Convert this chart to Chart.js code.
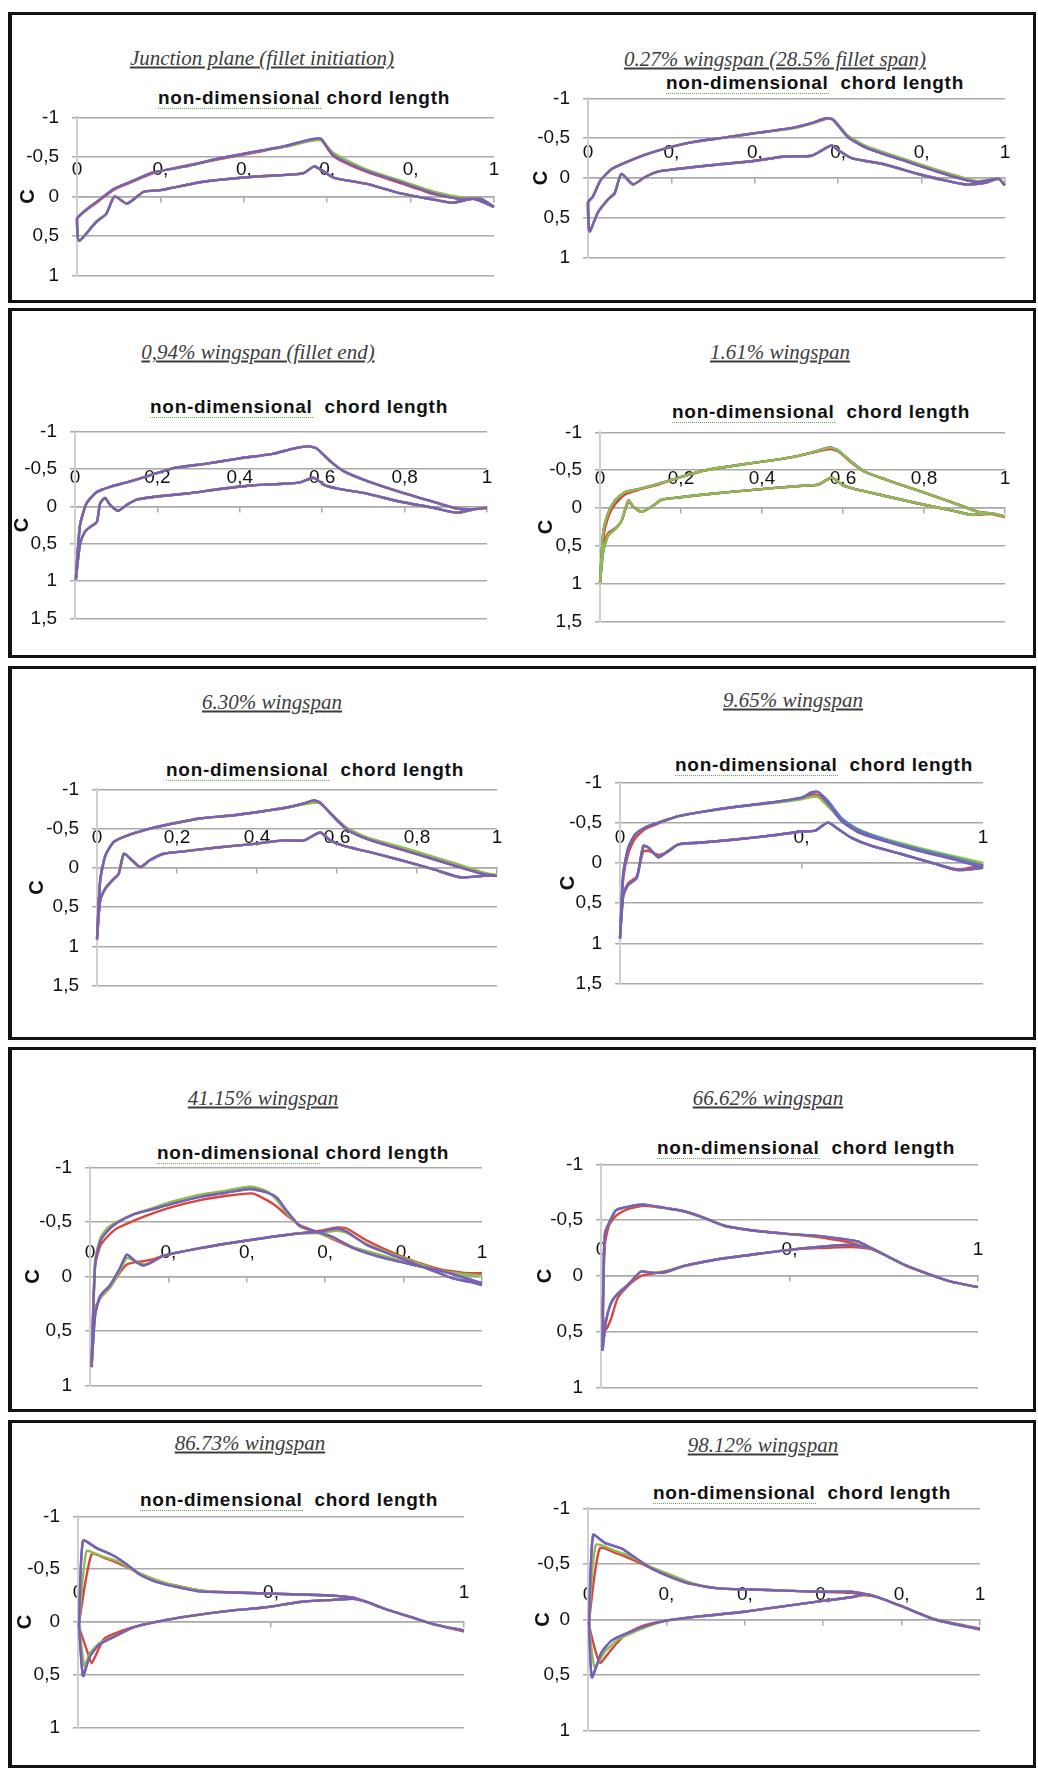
<!DOCTYPE html>
<html>
<head>
<meta charset="utf-8">
<title>Pressure distribution along the wingspan</title>
<script src="https://cdn.jsdelivr.net/npm/chart.js@4.4.1/dist/chart.umd.min.js"></script>
<style>
  html, body { margin: 0; padding: 0; background: #fff; }
  body { position: relative; width: 1038px; height: 1774px; overflow: hidden; }
  .box { position: absolute; left: 8px; width: 1028px; box-sizing: border-box; border: 3px solid #111; border-left-width: 4px; }
  .cap { position: absolute; transform: translate(-50%, -50%); font: italic 21px "Liberation Serif", "Times New Roman", serif; color: #3d3d3d; text-decoration: underline; white-space: nowrap; }
  .ttl { position: absolute; transform: translate(-50%, -50%); font: bold 19px "Liberation Sans", Arial, sans-serif; letter-spacing: 0.7px; color: #111; white-space: pre; }
  .ttl .sq { border-bottom: 1px dotted #63a243; }
  canvas { position: absolute; }
</style>
</head>
<body>
<div class="box" style="top:12px;height:291px"></div>
<div class="box" style="top:308px;height:350px"></div>
<div class="box" style="top:666px;height:374px"></div>
<div class="box" style="top:1047px;height:365px"></div>
<div class="box" style="top:1420px;height:348px"></div>
<script>
// ===== TICK TEXT =====
const xTextShort = ["0", "0,", "0,", "0,", "0,", "1"];
const xTextFull = ["0", "0,2", "0,4", "0,6", "0,8", "1"];
const xTextHalf = ["0", "0,", "1"];
const yText = ["-1", "-0,5", "0", "0,5", "1", "1,5"];   // from -1 upward in steps of 0.5

// ===== DATA (x = chord position, y = C), upper and lower branch from leading edge =====
// Junction plane
const c1UpX = [0, 0.054, 0.09, 0.135, 0.18, 0.26, 0.34, 0.42, 0.5, 0.56, 0.585, 0.615, 0.695, 0.776, 0.856, 0.92, 0.968, 1];
const c1UpY = [0.28, 0.04, -0.1, -0.2, -0.3, -0.38, -0.48, -0.56, -0.64, -0.72, -0.73, -0.52, -0.32, -0.18, -0.04, 0.03, 0.03, 0.13];
const c1UpYGreen = [0.28, 0.04, -0.1, -0.2, -0.3, -0.38, -0.48, -0.56, -0.63, -0.7, -0.71, -0.55, -0.34, -0.2, -0.06, 0.01, 0.03, 0.13];
const c1UpYRed = [0.28, 0.05, -0.09, -0.19, -0.29, -0.39, -0.47, -0.55, -0.63, -0.71, -0.72, -0.51, -0.31, -0.17, -0.03, 0.03, 0.03, 0.13];
const c1LoX = [0.005, 0.046, 0.07, 0.09, 0.12, 0.16, 0.2, 0.295, 0.4, 0.52, 0.545, 0.57, 0.615, 0.695, 0.776, 0.856, 0.9, 0.95, 1];
const c1LoY = [0.56, 0.32, 0.22, 0.0, 0.09, -0.06, -0.08, -0.18, -0.24, -0.28, -0.3, -0.38, -0.24, -0.16, -0.04, 0.04, 0.08, 0.03, 0.13];

// 0.27% wingspan
const c2UpX = [0, 0.012, 0.03, 0.056, 0.088, 0.136, 0.184, 0.25, 0.33, 0.41, 0.49, 0.536, 0.572, 0.588, 0.624, 0.672, 0.752, 0.832, 0.896, 0.936, 0.984, 1];
const c2UpY = [0.31, 0.23, 0.03, -0.11, -0.19, -0.29, -0.37, -0.45, -0.51, -0.57, -0.63, -0.69, -0.75, -0.73, -0.51, -0.37, -0.23, -0.09, 0.01, 0.05, 0.01, 0.09];
const c2UpYGreen = [0.31, 0.23, 0.03, -0.11, -0.19, -0.29, -0.37, -0.45, -0.51, -0.57, -0.62, -0.68, -0.74, -0.74, -0.53, -0.39, -0.25, -0.11, -0.01, 0.04, 0.01, 0.09];
const c2LoX = [0.004, 0.024, 0.048, 0.064, 0.08, 0.108, 0.136, 0.168, 0.208, 0.312, 0.392, 0.472, 0.536, 0.584, 0.6, 0.632, 0.712, 0.792, 0.856, 0.904, 0.952, 0.984, 1];
const c2LoY = [0.67, 0.43, 0.27, 0.19, -0.05, 0.08, -0.01, -0.08, -0.11, -0.17, -0.21, -0.27, -0.28, -0.41, -0.35, -0.25, -0.17, -0.05, 0.03, 0.08, 0.06, 0.01, 0.09];

// 0,94% wingspan
const c3UpX = [0.002, 0.012, 0.028, 0.053, 0.085, 0.126, 0.174, 0.239, 0.32, 0.4, 0.48, 0.53, 0.567, 0.587, 0.62, 0.652, 0.708, 0.79, 0.87, 0.927, 0.968, 1];
const c3UpY = [0.98, 0.26, -0.04, -0.19, -0.26, -0.32, -0.4, -0.51, -0.57, -0.64, -0.7, -0.77, -0.8, -0.77, -0.6, -0.47, -0.34, -0.19, -0.06, 0.03, 0.04, 0.02];
const c3LoX = [0.002, 0.012, 0.024, 0.036, 0.053, 0.061, 0.073, 0.085, 0.105, 0.126, 0.15, 0.198, 0.271, 0.352, 0.433, 0.506, 0.547, 0.579, 0.607, 0.644, 0.708, 0.79, 0.87, 0.927, 0.968, 1];
const c3LoY = [0.98, 0.51, 0.34, 0.28, 0.21, -0.04, -0.11, -0.02, 0.06, -0.02, -0.09, -0.13, -0.17, -0.23, -0.28, -0.3, -0.32, -0.38, -0.28, -0.23, -0.17, -0.06, 0.02, 0.085, 0.04, 0.02];

// 1.61% wingspan
const c4UpX = [0, 0.008, 0.02, 0.037, 0.062, 0.095, 0.144, 0.193, 0.26, 0.342, 0.424, 0.49, 0.539, 0.568, 0.588, 0.621, 0.654, 0.704, 0.786, 0.868, 0.934, 0.967, 1];
const c4UpY = [0.99, 0.32, 0.07, -0.1, -0.21, -0.25, -0.32, -0.4, -0.5, -0.57, -0.63, -0.69, -0.76, -0.8, -0.76, -0.61, -0.48, -0.38, -0.23, -0.08, 0.05, 0.07, 0.11];
const c4UpYRed = [0.99, 0.4, 0.12, -0.05, -0.18, -0.24, -0.31, -0.4, -0.5, -0.57, -0.63, -0.69, -0.75, -0.78, -0.75, -0.6, -0.48, -0.38, -0.23, -0.08, 0.05, 0.08, 0.12];
const c4LoX = [0, 0.008, 0.02, 0.037, 0.053, 0.07, 0.082, 0.103, 0.128, 0.152, 0.193, 0.276, 0.358, 0.44, 0.514, 0.539, 0.572, 0.601, 0.63, 0.704, 0.786, 0.868, 0.918, 0.967, 1];
const c4LoY = [0.99, 0.57, 0.36, 0.28, 0.17, -0.1, -0.02, 0.05, -0.02, -0.11, -0.14, -0.19, -0.23, -0.27, -0.3, -0.31, -0.4, -0.3, -0.25, -0.16, -0.06, 0.03, 0.09, 0.07, 0.11];
const c4LoYRed = [0.99, 0.5, 0.33, 0.27, 0.17, -0.08, -0.02, 0.05, -0.02, -0.11, -0.14, -0.19, -0.23, -0.27, -0.3, -0.31, -0.4, -0.3, -0.25, -0.16, -0.06, 0.03, 0.09, 0.08, 0.12];

// 6.30% wingspan
const c5UpX = [0, 0.008, 0.021, 0.042, 0.075, 0.125, 0.175, 0.258, 0.342, 0.425, 0.475, 0.517, 0.542, 0.558, 0.592, 0.625, 0.675, 0.758, 0.842, 0.925, 0.967, 1];
const c5UpY = [0.91, 0.16, -0.16, -0.33, -0.41, -0.49, -0.55, -0.63, -0.67, -0.73, -0.77, -0.82, -0.86, -0.83, -0.65, -0.49, -0.37, -0.24, -0.11, 0.02, 0.08, 0.1];
const c5UpYGreen = [0.91, 0.16, -0.16, -0.33, -0.41, -0.49, -0.55, -0.63, -0.67, -0.73, -0.77, -0.81, -0.83, -0.82, -0.66, -0.51, -0.39, -0.27, -0.14, -0.01, 0.06, 0.09];
const c5LoX = [0, 0.008, 0.021, 0.042, 0.054, 0.067, 0.083, 0.108, 0.133, 0.167, 0.217, 0.3, 0.383, 0.467, 0.517, 0.558, 0.583, 0.617, 0.675, 0.758, 0.842, 0.908, 0.967, 1];
const c5LoY = [0.91, 0.41, 0.26, 0.14, 0.08, -0.18, -0.12, -0.01, -0.1, -0.18, -0.21, -0.26, -0.3, -0.35, -0.35, -0.45, -0.35, -0.28, -0.21, -0.1, 0.02, 0.12, 0.1, 0.1];

// 9.65% wingspan
const c6UpX = [0, 0.009, 0.023, 0.041, 0.069, 0.106, 0.161, 0.234, 0.326, 0.417, 0.5, 0.528, 0.546, 0.573, 0.61, 0.656, 0.729, 0.821, 0.913, 1];
const c6UpY = [0.94, 0.13, -0.19, -0.35, -0.44, -0.5, -0.58, -0.64, -0.7, -0.75, -0.81, -0.88, -0.88, -0.74, -0.52, -0.38, -0.27, -0.15, -0.05, 0.06];
const c6UpYGreen = [0.94, 0.13, -0.19, -0.35, -0.44, -0.5, -0.58, -0.64, -0.7, -0.74, -0.79, -0.82, -0.82, -0.7, -0.55, -0.42, -0.3, -0.19, -0.09, 0.0];
const c6UpYRed = [0.94, 0.2, -0.12, -0.3, -0.42, -0.49, -0.58, -0.64, -0.7, -0.75, -0.8, -0.85, -0.84, -0.72, -0.53, -0.4, -0.28, -0.17, -0.07, 0.03];
const c6UpYBlue = [0.94, 0.13, -0.19, -0.35, -0.44, -0.5, -0.58, -0.64, -0.7, -0.75, -0.81, -0.87, -0.88, -0.77, -0.56, -0.41, -0.29, -0.17, -0.07, 0.04];
const c6LoX = [0, 0.009, 0.023, 0.046, 0.064, 0.078, 0.106, 0.133, 0.161, 0.216, 0.317, 0.417, 0.5, 0.537, 0.573, 0.601, 0.638, 0.693, 0.775, 0.867, 0.931, 1];
const c6LoY = [0.94, 0.41, 0.27, 0.19, -0.21, -0.19, -0.07, -0.15, -0.23, -0.25, -0.29, -0.34, -0.39, -0.4, -0.5, -0.42, -0.31, -0.21, -0.11, 0.01, 0.09, 0.06];
const c6LoYRed = [0.94, 0.38, 0.25, 0.17, -0.14, -0.15, -0.1, -0.14, -0.23, -0.25, -0.29, -0.34, -0.39, -0.4, -0.5, -0.42, -0.31, -0.21, -0.11, 0.01, 0.08, 0.03];

// 41.15% wingspan
const c7UpX = [0.004, 0.013, 0.026, 0.043, 0.068, 0.111, 0.153, 0.213, 0.281, 0.349, 0.4, 0.417, 0.451, 0.477, 0.502, 0.536, 0.579, 0.621, 0.672, 0.749, 0.834, 0.919, 0.962, 1];
const c7UpY = [0.83, -0.11, -0.32, -0.41, -0.49, -0.57, -0.61, -0.67, -0.73, -0.77, -0.8, -0.8, -0.77, -0.72, -0.6, -0.46, -0.41, -0.36, -0.26, -0.17, -0.1, -0.03, 0.02, 0.06];
const c7UpYGreen = [0.83, -0.15, -0.35, -0.44, -0.5, -0.57, -0.62, -0.69, -0.75, -0.79, -0.82, -0.82, -0.78, -0.7, -0.58, -0.46, -0.4, -0.35, -0.27, -0.19, -0.1, -0.04, -0.02, -0.01];
const c7UpYRed = [0.83, -0.1, -0.28, -0.36, -0.44, -0.51, -0.57, -0.64, -0.7, -0.74, -0.76, -0.76, -0.7, -0.64, -0.56, -0.47, -0.41, -0.34, -0.26, -0.18, -0.1, -0.05, -0.03, -0.03];
const c7LoX = [0.004, 0.013, 0.026, 0.051, 0.077, 0.094, 0.115, 0.136, 0.162, 0.187, 0.281, 0.4, 0.519, 0.587, 0.63, 0.655, 0.706, 0.791, 0.877, 0.928, 0.97, 1];
const c7LoY = [0.83, 0.36, 0.18, 0.08, -0.08, -0.2, -0.14, -0.1, -0.14, -0.19, -0.26, -0.33, -0.39, -0.41, -0.44, -0.41, -0.29, -0.17, -0.05, 0.02, 0.05, 0.08];
const c7LoYGreen = [0.83, 0.33, 0.2, 0.1, -0.06, -0.17, -0.14, -0.11, -0.14, -0.19, -0.26, -0.33, -0.39, -0.4, -0.42, -0.4, -0.3, -0.18, -0.07, -0.02, -0.01, -0.01];
const c7LoYRed = [0.83, 0.3, 0.2, 0.1, -0.04, -0.11, -0.13, -0.14, -0.16, -0.19, -0.26, -0.33, -0.39, -0.42, -0.45, -0.44, -0.33, -0.19, -0.08, -0.04, -0.03, -0.03];

// 66.62% wingspan
const c8UpX = [0.004, 0.007, 0.011, 0.022, 0.04, 0.071, 0.115, 0.168, 0.221, 0.274, 0.327, 0.398, 0.487, 0.575, 0.646, 0.681, 0.717, 0.752, 0.805, 0.867, 0.929, 1];
const c8UpY = [0.67, -0.1, -0.39, -0.48, -0.59, -0.62, -0.64, -0.61, -0.58, -0.52, -0.45, -0.41, -0.38, -0.36, -0.33, -0.31, -0.25, -0.19, -0.1, -0.02, 0.05, 0.1];
const c8UpYRed = [0.35, 0.0, -0.3, -0.46, -0.54, -0.6, -0.63, -0.61, -0.58, -0.52, -0.45, -0.41, -0.38, -0.35, -0.31, -0.28, -0.24, -0.19, -0.1, -0.02, 0.05, 0.1];
const c8LoX = [0.004, 0.013, 0.027, 0.044, 0.071, 0.106, 0.133, 0.168, 0.221, 0.31, 0.398, 0.487, 0.575, 0.664, 0.699, 0.717, 0.752, 0.805, 0.867, 0.929, 1];
const c8LoY = [0.67, 0.41, 0.24, 0.16, 0.08, -0.04, -0.03, -0.03, -0.09, -0.15, -0.19, -0.23, -0.26, -0.28, -0.26, -0.25, -0.19, -0.1, -0.02, 0.05, 0.1];
const c8LoYRed = [0.35, 0.48, 0.38, 0.2, 0.09, 0.0, -0.02, -0.04, -0.09, -0.15, -0.19, -0.23, -0.25, -0.26, -0.25, -0.24, -0.19, -0.1, -0.02, 0.05, 0.1];

// 86.73% wingspan
const c9UpX = [0.003, 0.013, 0.048, 0.091, 0.125, 0.16, 0.203, 0.246, 0.315, 0.402, 0.488, 0.575, 0.661, 0.713, 0.748, 0.791, 0.834, 0.92, 1];
const c9UpY = [0, -0.77, -0.7, -0.63, -0.55, -0.45, -0.38, -0.34, -0.29, -0.28, -0.27, -0.26, -0.25, -0.23, -0.19, -0.13, -0.08, 0.02, 0.08];
const c9UpXGreen = [0.003, 0.022, 0.056, 0.099, 0.13, 0.16, 0.203, 0.246, 0.315, 0.402, 0.488, 0.575, 0.661, 0.713, 0.748, 0.791, 0.834, 0.92, 1];
const c9UpYGreen = [0, -0.67, -0.63, -0.58, -0.52, -0.46, -0.4, -0.35, -0.3, -0.28, -0.27, -0.26, -0.25, -0.23, -0.19, -0.13, -0.08, 0.02, 0.08];
const c9UpXRed = [0.003, 0.035, 0.074, 0.108, 0.143, 0.17, 0.203, 0.246, 0.315, 0.402, 0.488, 0.575, 0.661, 0.713, 0.748, 0.791, 0.834, 0.92, 1];
const c9UpYRed = [0, -0.64, -0.6, -0.55, -0.49, -0.44, -0.39, -0.35, -0.3, -0.28, -0.27, -0.26, -0.25, -0.23, -0.19, -0.13, -0.08, 0.02, 0.09];
const c9LoX = [0.003, 0.013, 0.03, 0.056, 0.099, 0.143, 0.229, 0.315, 0.402, 0.488, 0.575, 0.661, 0.713, 0.748, 0.791, 0.834, 0.92, 1];
const c9LoY = [0.05, 0.51, 0.33, 0.21, 0.13, 0.05, -0.02, -0.07, -0.11, -0.14, -0.19, -0.21, -0.22, -0.19, -0.13, -0.08, 0.02, 0.08];
const c9LoXGreen = [0.003, 0.017, 0.03, 0.056, 0.099, 0.143, 0.229, 0.315, 0.402, 0.488, 0.575, 0.661, 0.713, 0.748, 0.791, 0.834, 0.92, 1];
const c9LoYGreen = [0.05, 0.42, 0.3, 0.2, 0.13, 0.05, -0.02, -0.07, -0.11, -0.14, -0.19, -0.21, -0.22, -0.19, -0.13, -0.08, 0.02, 0.08];
const c9LoXRed = [0.003, 0.026, 0.035, 0.048, 0.065, 0.082, 0.143, 0.229, 0.315, 0.402, 0.488, 0.575, 0.661, 0.713, 0.748, 0.791, 0.834, 0.92, 1];
const c9LoYRed = [0.05, 0.3, 0.39, 0.3, 0.17, 0.13, 0.05, -0.02, -0.07, -0.11, -0.14, -0.19, -0.21, -0.22, -0.19, -0.13, -0.08, 0.02, 0.09];

// 98.12% wingspan
const c10UpX = [0.003, 0.013, 0.043, 0.085, 0.119, 0.162, 0.213, 0.264, 0.332, 0.417, 0.502, 0.587, 0.672, 0.706, 0.74, 0.8, 0.885, 1];
const c10UpY = [0, -0.76, -0.69, -0.64, -0.56, -0.46, -0.38, -0.32, -0.28, -0.27, -0.26, -0.25, -0.25, -0.23, -0.2, -0.12, 0, 0.09];
const c10UpXGreen = [0.003, 0.02, 0.068, 0.1, 0.119, 0.162, 0.213, 0.264, 0.332, 0.417, 0.502, 0.587, 0.672, 0.706, 0.74, 0.8, 0.885, 1];
const c10UpYGreen = [0, -0.67, -0.62, -0.58, -0.55, -0.47, -0.4, -0.33, -0.28, -0.27, -0.26, -0.25, -0.25, -0.23, -0.2, -0.12, 0, 0.09];
const c10UpXRed = [0.003, 0.03, 0.077, 0.1, 0.119, 0.162, 0.213, 0.264, 0.332, 0.417, 0.502, 0.587, 0.672, 0.706, 0.74, 0.8, 0.885, 1];
const c10UpYRed = [0, -0.64, -0.59, -0.56, -0.53, -0.46, -0.38, -0.32, -0.28, -0.27, -0.26, -0.25, -0.24, -0.22, -0.2, -0.12, 0, 0.08];
const c10LoX = [0.003, 0.01, 0.034, 0.06, 0.102, 0.145, 0.2, 0.289, 0.4, 0.502, 0.603, 0.672, 0.706, 0.74, 0.8, 0.885, 1];
const c10LoY = [0.06, 0.52, 0.3, 0.19, 0.12, 0.06, 0.01, -0.03, -0.07, -0.12, -0.17, -0.2, -0.23, -0.2, -0.12, 0, 0.09];
const c10LoXGreen = [0.003, 0.017, 0.043, 0.077, 0.119, 0.162, 0.2, 0.289, 0.4, 0.502, 0.603, 0.672, 0.706, 0.74, 0.8, 0.885, 1];
const c10LoYGreen = [0.06, 0.43, 0.29, 0.18, 0.11, 0.05, 0.01, -0.03, -0.07, -0.12, -0.17, -0.2, -0.23, -0.2, -0.12, 0, 0.09];
const c10LoXRed = [0.003, 0.03, 0.055, 0.077, 0.102, 0.145, 0.2, 0.289, 0.4, 0.502, 0.603, 0.672, 0.706, 0.74, 0.8, 0.885, 1];
const c10LoYRed = [0.06, 0.39, 0.29, 0.2, 0.12, 0.05, 0.01, -0.03, -0.07, -0.12, -0.17, -0.2, -0.22, -0.2, -0.12, 0, 0.08];

// ===== STYLE / LAYOUT =====
const colors = { purple: "#7b5fb6", green: "#8dbd50", red: "#d9443c", blue: "#4f81bd" };
const gridColor = "#a9a9a9";
const W = 75, PT = 20, PB = 20, PR = 15;   // y-axis width and canvas padding around the plot area

Chart.defaults.font.family = '"Liberation Sans", Arial, sans-serif';

// plot = [left, right, pixel of -1, pixel of yMax]; lift = x-label centre above the 0 line; cOff = "C" centre left of axis
const charts = [
  { plot: [77, 494, 113, 280], yMax: 1, xStep: 0.2, xText: xTextShort, lift: 27, cOff: 49,
    cap: [262, 58, "Junction plane (fillet initiation)"], ttl: [304, 98, " chord length"],
    series: [["purple", c1UpX, c1UpY, c1LoX, c1LoY], ["green", c1UpX, c1UpYGreen, c1LoX, c1LoY],
             ["red", c1UpX, c1UpYRed, c1LoX, c1LoY], ["blue", c1UpX, c1UpY, c1LoX, c1LoY]] },
  { plot: [588, 1005, 94, 262], yMax: 1, xStep: 0.2, xText: xTextShort, lift: 25, cOff: 47,
    cap: [775, 59, "0.27% wingspan (28.5% fillet span)"], ttl: [815, 83, "  chord length"],
    series: [["purple", c2UpX, c2UpY, c2LoX, c2LoY], ["green", c2UpX, c2UpYGreen, c2LoX, c2LoY],
             ["red", c2UpX, c2UpY, c2LoX, c2LoY], ["blue", c2UpX, c2UpY, c2LoX, c2LoY]] },
  { plot: [75, 487, 427, 623], yMax: 1.5, xStep: 0.2, xText: xTextFull, lift: 29, cOff: 53,
    cap: [258, 352, "0,94% wingspan (fillet end)"], ttl: [299, 407, "  chord length"],
    series: [["purple", c3UpX, c3UpY, c3LoX, c3LoY], ["green", c3UpX, c3UpY, c3LoX, c3LoY],
             ["red", c3UpX, c3UpY, c3LoX, c3LoY], ["blue", c3UpX, c3UpY, c3LoX, c3LoY]] },
  { plot: [600, 1005, 428, 626], yMax: 1.5, xStep: 0.2, xText: xTextFull, lift: 29, cOff: 54,
    cap: [780, 352, "1.61% wingspan"], ttl: [821, 412, "  chord length"],
    series: [["green", c4UpX, c4UpY, c4LoX, c4LoY], ["red", c4UpX, c4UpYRed, c4LoX, c4LoYRed],
             ["purple", c4UpX, c4UpY, c4LoX, c4LoY], ["blue", c4UpX, c4UpY, c4LoX, c4LoY]] },
  { plot: [97, 497, 785, 990], yMax: 1.5, xStep: 0.2, xText: xTextFull, lift: 30, cOff: 60,
    cap: [272, 702, "6.30% wingspan"], ttl: [315, 770, "  chord length"],
    series: [["purple", c5UpX, c5UpY, c5LoX, c5LoY], ["green", c5UpX, c5UpYGreen, c5LoX, c5LoY],
             ["red", c5UpX, c5UpY, c5LoX, c5LoY], ["blue", c5UpX, c5UpY, c5LoX, c5LoY]] },
  { plot: [620, 983, 778, 988], yMax: 1.5, xStep: 0.5, xText: xTextHalf, lift: 25, cOff: 52,
    cap: [793, 700, "9.65% wingspan"], ttl: [824, 765, "  chord length"],
    series: [["purple", c6UpX, c6UpY, c6LoX, c6LoY], ["blue", c6UpX, c6UpYBlue, c6LoX, c6LoY],
             ["green", c6UpX, c6UpYGreen, c6LoX, c6LoY], ["red", c6UpX, c6UpYRed, c6LoX, c6LoYRed]] },
  { plot: [90, 482, 1163, 1390], yMax: 1, xStep: 0.2, xText: xTextShort, lift: 24, cOff: 57,
    cap: [263, 1098, "41.15% wingspan"], ttl: [303, 1153, " chord length"],
    series: [["purple", c7UpX, c7UpY, c7LoX, c7LoY], ["green", c7UpX, c7UpYGreen, c7LoX, c7LoYGreen],
             ["red", c7UpX, c7UpYRed, c7LoX, c7LoYRed], ["blue", c7UpX, c7UpY, c7LoX, c7LoY]] },
  { plot: [601, 978, 1160, 1392], yMax: 1, xStep: 0.5, xText: xTextHalf, lift: 26, cOff: 56,
    cap: [768, 1098, "66.62% wingspan"], ttl: [806, 1148, "  chord length"],
    series: [["purple", c8UpX, c8UpY, c8LoX, c8LoY], ["green", c8UpX, c8UpY, c8LoX, c8LoY],
             ["red", c8UpX, c8UpYRed, c8LoX, c8LoYRed], ["blue", c8UpX, c8UpY, c8LoX, c8LoY]] },
  { plot: [78, 464, 1512, 1732], yMax: 1, xStep: 0.5, xText: xTextHalf, lift: 29, cOff: 53,
    cap: [250, 1443, "86.73% wingspan"], ttl: [289, 1500, "  chord length"],
    series: [["purple", c9UpX, c9UpY, c9LoX, c9LoY], ["green", c9UpXGreen, c9UpYGreen, c9LoXGreen, c9LoYGreen],
             ["red", c9UpXRed, c9UpYRed, c9LoXRed, c9LoYRed], ["blue", c9UpX, c9UpY, c9LoX, c9LoY]] },
  { plot: [588, 980, 1504, 1735], yMax: 1, xStep: 0.2, xText: xTextShort, lift: 25, cOff: 45,
    cap: [763, 1445, "98.12% wingspan"], ttl: [802, 1493, "  chord length"],
    series: [["purple", c10UpX, c10UpY, c10LoX, c10LoY], ["green", c10UpXGreen, c10UpYGreen, c10LoXGreen, c10LoYGreen],
             ["red", c10UpXRed, c10UpYRed, c10LoXRed, c10LoYRed], ["blue", c10UpX, c10UpY, c10LoX, c10LoY]] }
];

// trailing edge -> leading edge along the upper branch, then back along the lower branch
function loop(upX, upY, loX, loY) {
  const pts = [];
  for (let i = upX.length - 1; i >= 0; i--) pts.push({ x: upX[i], y: upY[i] });
  for (let i = 0; i < loX.length; i++) pts.push({ x: loX[i], y: loY[i] });
  return pts;
}

function addText(cls, x, y) {
  const el = document.createElement("div");
  el.className = cls;
  el.style.left = x + "px";
  el.style.top = y + "px";
  document.body.appendChild(el);
  return el;
}

charts.forEach(c => {
  const [left, right, top, bottom] = c.plot;

  const cap = addText("cap", c.cap[0], c.cap[1]);
  cap.textContent = c.cap[2];

  const ttl = addText("ttl", c.ttl[0], c.ttl[1]);
  const sq = document.createElement("span");
  sq.className = "sq";
  sq.textContent = "non-dimensional";
  ttl.appendChild(sq);
  ttl.appendChild(document.createTextNode(c.ttl[2]));

  const cv = document.createElement("canvas");
  cv.width = W + (right - left) + PR;
  cv.height = PT + (bottom - top) + PB;
  cv.style.left = (left - W) + "px";
  cv.style.top = (top - PT) + "px";
  document.body.appendChild(cv);

  new Chart(cv, {
    type: "scatter",
    data: {
      datasets: c.series.map((s, i) => ({
        label: s[0],
        data: loop(s[1], s[2], s[3], s[4]),
        showLine: true,
        borderColor: colors[s[0]],
        backgroundColor: colors[s[0]],
        borderWidth: 2.4,
        pointRadius: 0,
        tension: 0.2,
        order: i,
        clip: 8
      }))
    },
    options: {
      responsive: false,
      animation: false,
      devicePixelRatio: 1,
      layout: { padding: { left: 0, top: PT, right: PR, bottom: PB } },
      plugins: { legend: { display: false }, tooltip: { enabled: false } },
      scales: {
        x: {
          type: "linear", min: 0, max: 1, position: { y: 0 },
          grid: { drawOnChartArea: false, drawTicks: true, tickLength: 5, color: gridColor, lineWidth: 1.5 },
          border: { display: true, color: gridColor, width: 1.5 },
          ticks: {
            stepSize: c.xStep, autoSkip: false, maxRotation: 0, minRotation: 0,
            padding: -(c.lift + 5 + 11.4), color: "#111", font: { size: 19 },
            callback: (v, i) => c.xText[i]
          }
        },
        y: {
          min: -1, max: c.yMax, reverse: true,
          grid: { color: gridColor, lineWidth: 1.5, tickLength: 5 },
          border: { display: true, color: "#cfcfcf", width: 2 },
          ticks: { stepSize: 0.5, padding: 13, color: "#111", font: { size: 19 },
                   callback: v => yText[Math.round((v + 1) / 0.5)] },
          title: { display: true, text: "C", color: "#111", font: { size: 20, weight: "bold" }, padding: { top: 63 - c.cOff, bottom: 0 } },
          afterFit: s => { s.width = W; }
        }
      }
    }
  });
});
</script>
</body>
</html>
